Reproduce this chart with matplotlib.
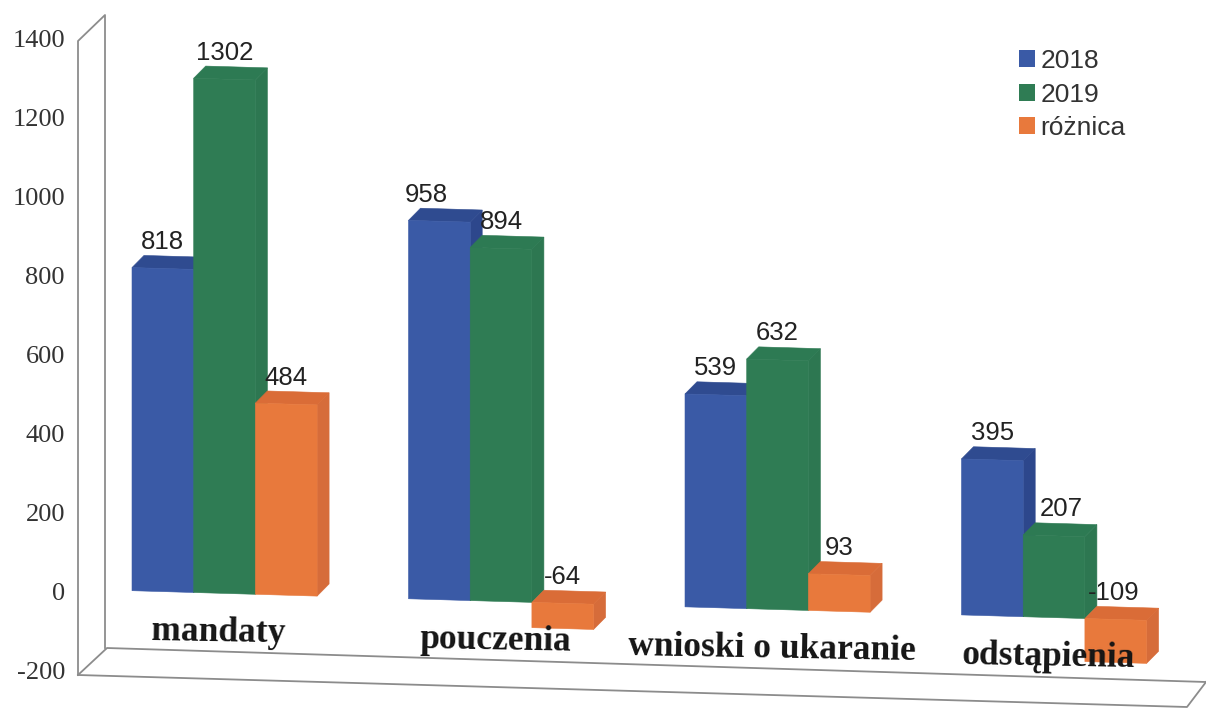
import matplotlib
matplotlib.use("Agg")
import matplotlib.pyplot as plt
import numpy as np
from matplotlib.lines import Line2D
from matplotlib.patches import Patch, Polygon
from matplotlib.transforms import Affine2D

# Dane
categories = ["mandaty", "pouczenia", "wnioski o ukaranie", "odstąpienia"]
values_2018 = [818, 958, 539, 395]
values_2019 = [1302, 894, 632, 207]
values_diff = [484, -64, 93, -109]
series_names = ["2018", "2019", "różnica"]
y_ticks = [-200, 0, 200, 400, 600, 800, 1000, 1200, 1400]

W, H = 1206, 718
PX_PER_SLOT = 61.7  # szerokosc slupka w pikselach
PX_PER_VALUE = 0.395
X0, Y0 = 132, 590.7  # poczatek pierwszego slupka, wartosc 0
SLOPE = 0.0292  # skan jest lekko obrocony
GROUP_STEP = 276.5 / PX_PER_SLOT
DEPTH_X = 12 / PX_PER_SLOT
DEPTH_Y = 12.5 / PX_PER_VALUE

colors = [
    {"front": "#3a5aa6", "top": "#2f4b90", "side": "#2d478c"},
    {"front": "#2f7c54", "top": "#2d7a53", "side": "#2d7751"},
    {"front": "#e8793c", "top": "#da6c37", "side": "#d66c3a"},
]

fig = plt.figure(figsize=(W / 100, H / 100), dpi=100, facecolor="white")
ax = fig.add_axes([0, 0, 1, 1])
ax.set_xlim(-X0 / PX_PER_SLOT, (W - X0) / PX_PER_SLOT)
ax.set_ylim((Y0 - H) / PX_PER_VALUE, Y0 / PX_PER_VALUE)
ax.axis("off")

# Pochylenie: os X w slupkach, os Y w wartosciach, baza opada w prawo
tilt_value = SLOPE * PX_PER_SLOT / PX_PER_VALUE
tilted = Affine2D(np.array([[1, 0, 0], [-tilt_value, 1, 0], [0, 0, 1]])) + ax.transData
# Rama wykresu w pikselach obrazu
pixels = Affine2D().scale(1, -1).translate(0, H)

frame_lines = [
    ([78, 78, 105, 105], [675, 41, 15, 648]),
    ([78, 107, 1206], [675, 648, 682]),
    ([78, 1187, 1206], [675, 707, 682]),
]
for xs, ys in frame_lines:
    ax.add_line(Line2D(xs, ys, color="#8c8c8c", lw=1.3, transform=pixels, zorder=1))


def draw_bar(left, value, col, z):
    """Slupek 3D: bok, wierzch i przod."""
    right = left + 1
    top = max(value, 0)
    bottom = min(value, 0)
    side = [(right, bottom), (right + DEPTH_X, bottom + DEPTH_Y),
            (right + DEPTH_X, top + DEPTH_Y), (right, top)]
    roof = [(left, top), (left + DEPTH_X, top + DEPTH_Y),
            (right + DEPTH_X, top + DEPTH_Y), (right, top)]
    front = [(left, bottom), (right, bottom), (right, top), (left, top)]
    for pts, c in [(side, col["side"]), (roof, col["top"]), (front, col["front"])]:
        ax.add_patch(Polygon(pts, closed=True, fc=c, ec=c, lw=0.4,
                             transform=tilted, zorder=z))


# Reczne poprawki etykiet jak na oryginale (px)
label_nudge = {958: -13, 207: 7, -109: -2}

series = [values_2018, values_2019, values_diff]
z = 2
for g in range(len(categories)):
    for s, vals in enumerate(series):
        left = g * GROUP_STEP + s
        draw_bar(left, vals[g], colors[s], z)
        z += 1

for g in range(len(categories)):
    for s, vals in enumerate(series):
        v = vals[g]
        ax.annotate(str(v), xy=(g * GROUP_STEP + s + 0.5, max(v, 0) + DEPTH_Y),
                    xycoords=tilted,
                    xytext=(label_nudge.get(v, 0) * 0.72, 14 * 0.72),
                    textcoords="offset points", ha="center", va="center",
                    fontsize=18.5, family="Liberation Sans", color="#222222",
                    zorder=50)

    # Podpisy kategorii
    ax.annotate(categories[g], xy=(g * GROUP_STEP + 1.5, 0), xycoords=tilted,
                xytext=(-6 * 0.72, -39 * 0.72), textcoords="offset points",
                ha="center", va="center", fontsize=25.5, weight="bold",
                family="Liberation Serif", color="#151515", rotation=-1,
                rotation_mode="anchor", zorder=60)

# Os Y
for t in y_ticks:
    ax.annotate(str(t), xy=(-X0 / PX_PER_SLOT, t), xycoords=tilted,
                xytext=(65 * 0.72, -7 * 0.72), textcoords="offset points",
                ha="right", va="center", fontsize=19,
                family="Liberation Serif", color="#333333", zorder=60)

handles = [Patch(fc=c["front"], ec="none") for c in colors]
leg = ax.legend(handles, series_names, loc="upper left",
                bbox_to_anchor=(1019 / W, 1 - 49 / H), frameon=False,
                prop={"family": "Liberation Sans", "size": 19},
                handlelength=0.62, handleheight=0.62, handletextpad=0.2,
                labelspacing=0.36, borderpad=0, borderaxespad=0)
for text in leg.get_texts():
    text.set_color("#333333")

fig.savefig("out.png", dpi=100)
